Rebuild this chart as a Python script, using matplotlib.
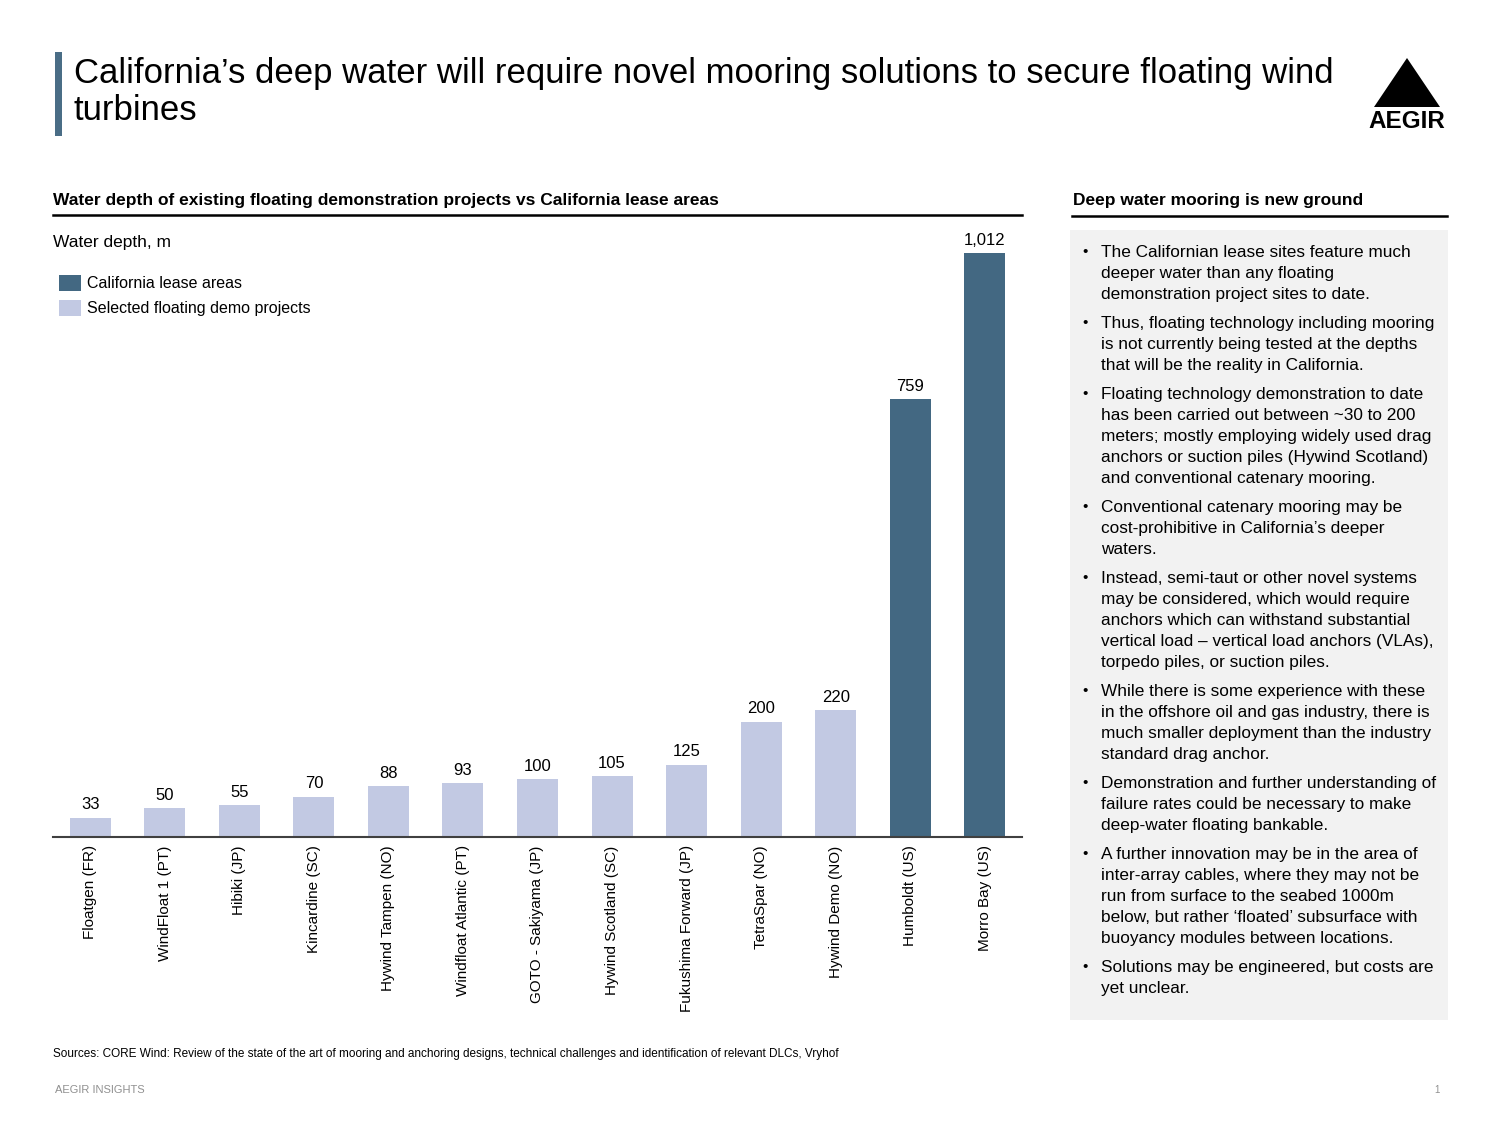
import numpy as np
import matplotlib.pyplot as plt
from matplotlib.patches import Rectangle, Polygon

plt.rcParams['font.family'] = ['Liberation Sans', 'DejaVu Sans']

W, H = 1500, 1126

# data
projects = ['Floatgen (FR)', 'WindFloat 1 (PT)', 'Hibiki (JP)', 'Kincardine (SC)',
            'Hywind Tampen (NO)', 'Windfloat Atlantic (PT)', 'GOTO - Sakiyama (JP)',
            'Hywind Scotland (SC)', 'Fukushima Forward (JP)', 'TetraSpar (NO)',
            'Hywind Demo (NO)', 'Humboldt (US)', 'Morro Bay (US)']
depths = [33, 50, 55, 70, 88, 93, 100, 105, 125, 200, 220, 759, 1012]
is_california = [False] * 11 + [True, True]

dark = '#436882'
light = '#c2c9e3'

bullets = [
    ['The Californian lease sites feature much', 'deeper water than any floating',
     'demonstration project sites to date.'],
    ['Thus, floating technology including mooring', 'is not currently being tested at the depths',
     'that will be the reality in California.'],
    ['Floating technology demonstration to date', 'has been carried out between ~30 to 200',
     'meters; mostly employing widely used drag', 'anchors or suction piles (Hywind Scotland)',
     'and conventional catenary mooring.'],
    ['Conventional catenary mooring may be', 'cost-prohibitive in California\u2019s deeper', 'waters.'],
    ['Instead, semi-taut or other novel systems', 'may be considered, which would require',
     'anchors which can withstand substantial', 'vertical load \u2013 vertical load anchors (VLAs),',
     'torpedo piles, or suction piles.'],
    ['While there is some experience with these', 'in the offshore oil and gas industry, there is',
     'much smaller deployment than the industry', 'standard drag anchor.'],
    ['Demonstration and further understanding of', 'failure rates could be necessary to make',
     'deep-water floating bankable.'],
    ['A further innovation may be in the area of', 'inter-array cables, where they may not be',
     'run from surface to the seabed 1000m', 'below, but rather \u2018floated\u2019 subsurface with',
     'buoyancy modules between locations.'],
    ['Solutions may be engineered, but costs are', 'yet unclear.'],
]


def px(x, y):
    return x / W, 1 - y / H


fig = plt.figure(figsize=(15, 11.26), dpi=100)

# title block
fig.patches.append(Rectangle(px(55, 136), 7 / W, 84 / H, transform=fig.transFigure,
                             facecolor='#4a6d86', edgecolor='none'))
fig.text(*px(74, 83), 'California\u2019s deep water will require novel mooring solutions to secure floating wind',
         fontsize=25, va='baseline', ha='left')
fig.text(*px(74, 120), 'turbines', fontsize=25, va='baseline', ha='left')

# logo
tri = [px(1407, 58), px(1374, 107), px(1440, 107)]
fig.patches.append(Polygon(tri, closed=True, transform=fig.transFigure, facecolor='black'))
fig.text(*px(1407, 121), 'AEGIR', fontsize=17.5, fontweight='bold', ha='center', va='center')

# left header
fig.text(*px(53, 200), 'Water depth of existing floating demonstration projects vs California lease areas',
         fontsize=12.5, fontweight='bold', va='center')
fig.add_artist(plt.Line2D([53 / W, 1022 / W], [1 - 215 / H] * 2, color='black', lw=1.8))
fig.text(*px(53, 242), 'Water depth, m', fontsize=12.5, va='center')

# legend
for yy, col, lab in [(283, dark, 'California lease areas'), (308, light, 'Selected floating demo projects')]:
    fig.patches.append(Rectangle(px(59, yy + 8), 22 / W, 16 / H, transform=fig.transFigure,
                                 facecolor=col, edgecolor='none'))
    fig.text(*px(87, yy), lab, fontsize=11.5, va='center')

# bar chart
ax = fig.add_axes([53 / W, 1 - 837 / H, 969 / W, 607 / H])
x = np.arange(len(projects))
colors = [dark if c else light for c in is_california]
ax.bar(x, depths, width=0.55, color=colors)
for xi, d in zip(x, depths):
    ax.annotate(f'{d:,}', (xi, d), xytext=(0, 4), textcoords='offset points',
                ha='center', va='bottom', fontsize=12)
ax.set_xlim(-0.5, 12.5)
ax.set_ylim(0, 1052)
ax.set_xticks(x)
ax.set_xticklabels(projects, rotation=90, fontsize=11)
ax.tick_params(axis='x', length=0, pad=6)
ax.set_yticks([])
for s in ['top', 'right', 'left']:
    ax.spines[s].set_visible(False)
ax.spines['bottom'].set_color('#404040')
ax.spines['bottom'].set_linewidth(1.5)

# right panel
fig.text(*px(1073, 201), 'Deep water mooring is new ground', fontsize=12.5, fontweight='bold', va='center')
fig.add_artist(plt.Line2D([1072 / W, 1447 / W], [1 - 216 / H] * 2, color='black', lw=1.8))
fig.patches.append(Rectangle(px(1070, 1020), 378 / W, 790 / H, transform=fig.transFigure,
                             facecolor='#f2f2f2', edgecolor='none'))
y = 257
for para in bullets:
    fig.text(*px(1082, y - 1), '\u2022', fontsize=11, va='baseline')
    for line in para:
        fig.text(*px(1101, y), line, fontsize=12.4, va='baseline')
        y += 21
    y += 8

# footer
fig.text(*px(53, 1054), 'Sources: CORE Wind: Review of the state of the art of mooring and anchoring designs, '
         'technical challenges and identification of relevant DLCs, Vryhof', fontsize=8.5, va='center')
fig.text(*px(55, 1090), 'AEGIR INSIGHTS', fontsize=8, color='#909090', va='center')
fig.text(*px(1440, 1090), '1', fontsize=7, color='#909090', va='center', ha='right')

fig.savefig('out.png', dpi=100)
